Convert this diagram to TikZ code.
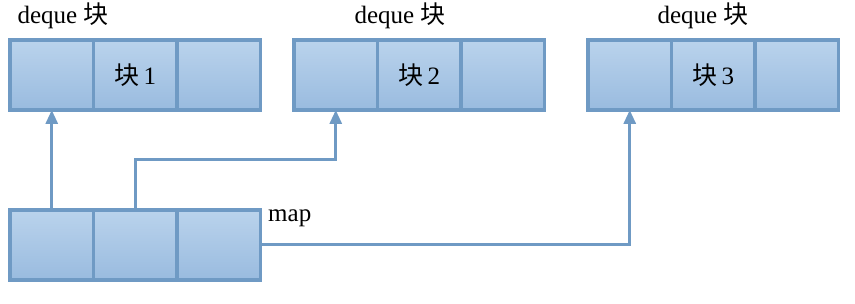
\documentclass[tikz,border=0pt]{standalone}
\usepackage{fontspec}
\setmainfont{Liberation Serif}
\newfontfamily\cjk{Noto Sans CJK SC}
\usetikzlibrary{arrows.meta, positioning}
\definecolor{cellTop}{HTML}{BAD3EC}
\definecolor{cellBot}{HTML}{99BBDF}
\definecolor{cellLine}{HTML}{6F9AC4}

\begin{document}
\begin{tikzpicture}[x=1pt, y=-1pt,
  node distance=0pt,
  cell/.style={draw=cellLine, line width=3.2pt, top color=cellTop, bottom color=cellBot,
               minimum width=83.5pt, minimum height=70pt, inner sep=0pt, outer sep=0pt,
               anchor=west, font=\fontsize{25}{29}\selectfont},
  lbl/.style={font=\fontsize{25}{29}\selectfont, inner sep=0pt},
  link/.style={draw=cellLine, line width=3pt, -{Triangle[width=12pt,length=14pt]}}]
\useasboundingbox (0,0) rectangle (855,304);
% deque blocks
\node[cell] (a1) at (10,75) {};
\node[cell, right=of a1] (a2) {{\cjk 块}\,1};
\node[cell, right=of a2] (a3) {};
\node[cell] (b1) at (294,75) {};
\node[cell, right=of b1] (b2) {{\cjk 块}\,2};
\node[cell, right=of b2] (b3) {};
\node[cell] (c1) at (588,75) {};
\node[cell, right=of c1] (c2) {{\cjk 块}\,3};
\node[cell, right=of c2] (c3) {};
\node[lbl, anchor=base] (la) at (63,24) {deque {\cjk 块}};
\node[lbl, anchor=base] (lb) at (400,24) {deque {\cjk 块}};
\node[lbl, anchor=base] (lc) at (703,24) {deque {\cjk 块}};
% map
\node[cell] (m1) at (10,245) {};
\node[cell, right=of m1] (m2) {};
\node[cell, right=of m2] (m3) {};
\node[lbl, anchor=base west] (lm) at (268,222) {map};
\draw[link] (m1.north) -- (a1.south);
\draw[link] (m2.north) -- ++(0,-50) -| (b1.south);
\draw[link] (m3.east) -| (c1.south);
\end{tikzpicture}
\end{document}
